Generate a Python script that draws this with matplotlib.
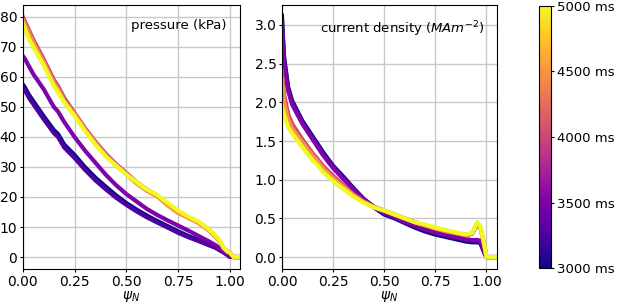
# profiles of pressure and current density vs psi_N, coloured by time

import matplotlib
matplotlib.use('Agg')
import matplotlib.pyplot as plt
import numpy as np

# times of the profiles (ms)
times = [3000, 3250, 3500, 4000, 4500, 5000]

# psi_N grid
psi = [0.0, 0.01, 0.03, 0.05, 0.1, 0.15, 0.17, 0.2, 0.25, 0.3, 0.35, 0.4, 0.45, 0.5,
       0.55, 0.6, 0.65, 0.7, 0.75, 0.8, 0.85, 0.9, 0.93, 0.955, 0.97, 0.99, 1.0, 1.02, 1.05]

# pressure (kPa) for each time
p_3000 = [57.5, 56.5, 54, 52, 47, 42.3, 41, 37.5, 34, 30, 26.5, 23.5, 20.6, 18,
          15.8, 13.8, 12, 10.3, 8.6, 7, 5.7, 4.2, 3.4, 2.4, 1.7, 0.7, 0.1, 0, 0]
p_3250 = [56.5, 55.5, 53, 51, 46, 41.3, 40, 36.5, 33, 29.1, 25.6, 22.6, 19.8, 17.4,
          15.2, 13.2, 11.5, 9.8, 8.1, 6.6, 5.3, 3.9, 3.1, 2.1, 1.5, 0.6, 0.1, 0, 0]
p_3500 = [67, 66, 63.5, 61, 56, 50, 48.5, 45, 40, 35.5, 31.5, 27.5, 24, 21,
          18.5, 16, 14, 12.2, 10.5, 8.8, 7, 5.2, 4, 2.8, 2, 0.8, 0.2, 0, 0]
p_4000 = [80, 78.5, 75.5, 72.5, 66, 59, 57, 53, 48, 43, 38.5, 34.5, 31, 28,
          25, 22.5, 20.5, 17.5, 15, 13.2, 11.5, 9, 7, 5, 3, 1.8, 1.5, 0, 0]
p_4500 = [79, 77.5, 74.5, 71.5, 65, 58, 56, 52, 47.5, 42.5, 38, 34, 30.5, 27.5,
          24.5, 22, 20.2, 17.2, 14.7, 13, 11.3, 8.8, 6.8, 4.8, 3, 1.8, 1.5, 0, 0]
p_5000 = [78, 76, 72.5, 70, 64, 57, 55, 51.5, 47, 42, 37.5, 33.5, 30.5, 27.5,
          25, 22.5, 20.7, 18, 15.5, 13.5, 11.8, 9.2, 7.3, 5.2, 3.2, 1.8, 1.5, 0, 0]

# current density (MA m^-2) for each time
j_3000 = [3.12, 2.6, 2.2, 2.02, 1.76, 1.56, 1.48, 1.36, 1.18, 1.04, 0.89, 0.75, 0.64, 0.55,
          0.5, 0.44, 0.38, 0.33, 0.29, 0.26, 0.23, 0.2, 0.19, 0.19, 0.18, 0.05, 0.0, 0.0, 0.0]
j_3250 = [3.05, 2.55, 2.18, 2.0, 1.74, 1.54, 1.46, 1.34, 1.17, 1.03, 0.88, 0.75, 0.65, 0.56,
          0.51, 0.45, 0.4, 0.35, 0.31, 0.28, 0.25, 0.22, 0.21, 0.21, 0.2, 0.06, 0.0, 0.0, 0.0]
j_3500 = [2.95, 2.5, 2.15, 1.97, 1.72, 1.52, 1.44, 1.32, 1.15, 1.01, 0.87, 0.74, 0.65, 0.57,
          0.52, 0.46, 0.41, 0.36, 0.32, 0.29, 0.26, 0.23, 0.22, 0.22, 0.21, 0.07, 0.0, 0.0, 0.0]
j_4000 = [2.4, 2.1, 1.85, 1.72, 1.52, 1.34, 1.28, 1.18, 1.05, 0.93, 0.81, 0.72, 0.65, 0.6,
          0.55, 0.5, 0.45, 0.41, 0.37, 0.33, 0.31, 0.28, 0.3, 0.42, 0.38, 0.15, 0.0, 0.0, 0.0]
j_4500 = [2.3, 2.0, 1.78, 1.66, 1.48, 1.31, 1.25, 1.15, 1.02, 0.91, 0.8, 0.71, 0.65, 0.6,
          0.55, 0.5, 0.45, 0.41, 0.37, 0.34, 0.31, 0.29, 0.31, 0.44, 0.39, 0.15, 0.0, 0.0, 0.0]
j_5000 = [1.95, 1.85, 1.68, 1.6, 1.42, 1.25, 1.2, 1.1, 0.98, 0.88, 0.78, 0.7, 0.64, 0.6,
          0.55, 0.5, 0.45, 0.42, 0.38, 0.35, 0.32, 0.29, 0.31, 0.45, 0.4, 0.15, 0.0, 0.0, 0.0]

pressure = [p_3000, p_3250, p_3500, p_4000, p_4500, p_5000]
current = [j_3000, j_3250, j_3500, j_4000, j_4500, j_5000]

cmap = plt.get_cmap('plasma')
norm = matplotlib.colors.Normalize(vmin=3000, vmax=5000)

fig = plt.figure(figsize=(6.17, 3.04), dpi=100)
ax1 = fig.add_axes([0.037, 0.115, 0.352, 0.869])
ax2 = fig.add_axes([0.457, 0.115, 0.348, 0.869])
cax = fig.add_axes([0.874, 0.118, 0.019, 0.863])

for t, p, j in zip(times, pressure, current):
    c = cmap(norm(t))
    ax1.plot(psi, p, color=c, lw=3)
    ax2.plot(psi, j, color=c, lw=3)

for ax in (ax1, ax2):
    ax.set_xlim(0, 1.05)
    ax.set_xticks([0, 0.25, 0.5, 0.75, 1.0])
    ax.grid(True, color='#c8c8c8', lw=1)
    ax.set_axisbelow(True)
    ax.tick_params(labelsize=10, length=2, pad=2)
    ax.set_xlabel(r'$\psi_N$', fontsize=10, labelpad=0)

ax1.set_ylim(-4, 84)
ax1.set_yticks(range(0, 81, 10))
ax2.set_ylim(-0.155, 3.26)
ax2.set_yticks([0, 0.5, 1.0, 1.5, 2.0, 2.5, 3.0])

ax1.text(0.94, 0.945, 'pressure (kPa)', transform=ax1.transAxes,
         ha='right', va='top', fontsize=9.5)
ax2.text(0.945, 0.945, r'current density ($MAm^{-2}$)', transform=ax2.transAxes,
         ha='right', va='top', fontsize=9.5)

sm = matplotlib.cm.ScalarMappable(norm=norm, cmap=cmap)
cb = fig.colorbar(sm, cax=cax, ticks=[3000, 3500, 4000, 4500, 5000])
cb.ax.set_yticklabels(['3000 ms', '3500 ms', '4000 ms', '4500 ms', '5000 ms'])
cb.ax.tick_params(labelsize=9.5, length=2, pad=2)

fig.savefig('out.png', dpi=100)
